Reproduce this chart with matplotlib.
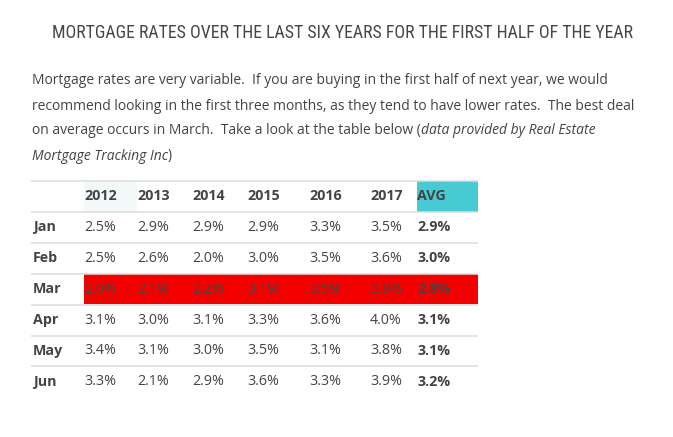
import matplotlib
matplotlib.use("Agg")
import matplotlib.pyplot as plt
from matplotlib import font_manager
from matplotlib.patches import Rectangle

# ---- data ----
title = "MORTGAGE RATES OVER THE LAST SIX YEARS FOR THE FIRST HALF OF THE YEAR"
para_lines = [
    [("Mortgage rates are very variable.  If you are buying in the first half of next year, we would", "normal")],
    [("recommend looking in the first three months, as they tend to have lower rates.  The best deal", "normal")],
    [("on average occurs in March.  Take a look at the table below (", "normal"),
     ("data provided by Real Estate", "italic")],
    [("Mortgage Tracking Inc", "italic"), (")", "normal")],
]
years = ["2012", "2013", "2014", "2015", "2016", "2017"]
avg_label = "AVG"
months = ["Jan", "Feb", "Mar", "Apr", "May", "Jun"]
rates = [
    [2.5, 2.9, 2.9, 2.9, 3.3, 3.5],
    [2.5, 2.6, 2.0, 3.0, 3.5, 3.6],
    [2.0, 2.1, 2.2, 3.1, 3.5, 3.8],
    [3.1, 3.0, 3.1, 3.3, 3.6, 4.0],
    [3.4, 3.1, 3.0, 3.5, 3.1, 3.8],
    [3.3, 2.1, 2.9, 3.6, 3.3, 3.9],
]
avg = [2.9, 3.0, 2.8, 3.1, 3.1, 3.2]
highlight_month = "Mar"

# ---- fonts ----
avail = {f.name for f in font_manager.fontManager.ttflist}
title_font = next((f for f in ["Liberation Sans Narrow", "DejaVu Sans Condensed", "Roboto Condensed"] if f in avail), "DejaVu Sans")
body_font = "Open Sans" if "Open Sans" in avail else "DejaVu Sans"

W, H = 673, 437
fig = plt.figure(figsize=(W / 100, H / 100), dpi=100)
ax = fig.add_axes([0, 0, 1, 1])
ax.set_xlim(0, W)
ax.set_ylim(H, 0)
ax.axis("off")

txt = "#444444"

fig.canvas.draw()
renderer = fig.canvas.get_renderer()

# title, scaled to span the reference width
tt = ax.text(342, 33, title, ha="center", va="center", fontsize=17, family=title_font,
             color="#464646", fontstretch="condensed", weight="normal")
w = tt.get_window_extent(renderer=renderer).width
tt.set_fontsize(17 * 580 / w)

# paragraph with mixed styles
y0, lh = 81, 25
for i, parts in enumerate(para_lines):
    x = 32
    for s, style in parts:
        t = ax.text(x, y0 + i * lh, s, ha="left", va="center", fontsize=10.0,
                    family=body_font, style=style, color=txt)
        bb = t.get_window_extent(renderer=renderer)
        x += bb.width

# table layout
col_x = [84, 137, 192, 247, 309, 370, 417]
right = 478
left_line = 31
label_x = 33
top = 181
rh = 30.9
nrows = len(months) + 1

# header backgrounds
ax.add_patch(Rectangle((col_x[0], top), col_x[1] - col_x[0], rh, color="#f3f9f9", lw=0))
ax.add_patch(Rectangle((col_x[-1], top), right - col_x[-1], rh, color="#48cad3", lw=0))

# highlight row
hi = months.index(highlight_month) + 1
ax.add_patch(Rectangle((col_x[0], top + hi * rh), right - col_x[0], rh - 0.8, color="#f50000", lw=0, zorder=1))

# lines
for r in range(nrows):
    y = top + r * rh
    ax.plot([left_line, right], [y, y], color="#dddddd", lw=1.1, zorder=2, solid_capstyle="butt")

fs = 10.3
# header text
for j, yr in enumerate(years + [avg_label]):
    ax.text(col_x[j], top + rh / 2, yr, ha="left", va="center", fontsize=fs,
            family=body_font, weight="bold", color=txt, zorder=3)

for i, m in enumerate(months):
    yc = top + (i + 1) * rh + rh / 2
    ax.text(label_x, yc, m, ha="left", va="center", fontsize=fs, family=body_font,
            weight="bold", color=txt, zorder=3)
    for j, v in enumerate(rates[i]):
        ax.text(col_x[j], yc, f"{v:.1f}%", ha="left", va="center", fontsize=fs,
                family=body_font, color=txt, zorder=3)
    ax.text(col_x[-1], yc, f"{avg[i]:.1f}%", ha="left", va="center", fontsize=fs,
            family=body_font, weight="bold", color=txt, zorder=3)

fig.savefig("out.png", dpi=100)
